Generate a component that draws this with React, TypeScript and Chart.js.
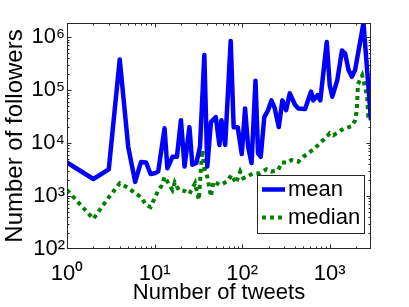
import React, { useEffect, useRef } from 'react';
import { Chart, registerables } from 'chart.js';

Chart.register(...registerables);

const FONT = "'Liberation Sans', Arial, Helvetica, sans-serif";

const seriesLabels = ['mean', 'median'];

const meanTweets = [
  1, 2, 3, 4, 5, 6, 7, 8, 9, 10, 11, 13, 14, 16, 18, 20, 22, 25, 27, 30, 33, 37, 40, 44, 50, 55, 58, 64,
  74, 80, 89, 99, 108, 117, 128, 142, 152, 163, 179, 198, 216, 236, 262, 288, 318, 350, 401, 438, 523,
  612, 648, 726, 780, 925, 1000, 1070, 1220, 1380, 1500, 1640, 1790, 1950, 2430, 2960,
];
const meanFollowers = [
  4300, 2100, 3200, 380000, 8500, 1850, 4400, 4300, 2600, 2700, 2900, 19000, 3350, 5500, 5500, 27000,
  3600, 20000, 3900, 4200, 8500, 460000, 3600, 25000, 31000, 9200, 27000, 9200, 850000, 20000, 20000,
  6200, 45000, 8500, 4200, 150000, 6400, 5500, 31000, 42000, 64000, 45000, 20000, 64000, 42000, 87000,
  53000, 45000, 44000, 94000, 64000, 80000, 64000, 810000, 124000, 75000, 155000, 560000, 490000,
  240000, 178000, 240000, 1850000, 27000,
];

const medianTweets = [
  1, 2, 3, 4, 5, 6, 7, 8, 9, 10, 11, 12, 13, 16, 17, 19, 22, 25, 29, 32, 35, 37, 40, 42, 44, 47, 56, 67,
  76, 85, 95, 103, 113, 134, 158, 190, 216, 258, 284, 335, 366, 438, 498, 569, 677, 775, 880, 1000,
  1100, 1370, 1500, 1800, 1950, 2040, 2100, 2350, 2530, 2670, 2760, 2960,
];
const medianFollowers = [
  1300, 370, 945, 1740, 1430, 1130, 955, 680, 620, 910, 1270, 1550, 2300, 1300, 1800, 1280, 1250, 1100,
  1750, 850, 7400, 3350, 2300, 1500, 980, 1875, 1620, 1875, 2500, 1750, 2900, 2170, 2300, 2700, 2700,
  3200, 2900, 3100, 4300, 4300, 4800, 4450, 5500, 6400, 8000, 10000, 12300, 15300, 14000, 17800, 19000,
  21000, 27000, 42000, 130000, 190000, 115000, 75000, 31000, 27000,
];

const xTickValues = [1, 10, 100, 1000];
const yTickValues = [100, 1000, 10000, 100000, 1000000];
const xRange = [1, 2960];
const yRange = [100, 1850000];

const SUP: Record<string, string> = {
  '0': '\u2070', '1': '\u00B9', '2': '\u00B2', '3': '\u00B3', '4': '\u2074',
  '5': '\u2075', '6': '\u2076', '7': '\u2077', '8': '\u2078', '9': '\u2079', '-': '\u207B',
};
const powLabel = (v: number) =>
  '10' + String(Math.round(Math.log10(v))).split('').map((c) => SUP[c] || c).join('');

const framePlugin = {
  id: 'frameTicks',
  afterDatasetsDraw(chart: any) {
    const { ctx, chartArea } = chart;
    const { left, right, top, bottom } = chartArea;
    const L = Math.round(left) + 0.5;
    const R = Math.round(right) - 0.5;
    const T = Math.round(top) + 0.5;
    const B = Math.round(bottom) - 0.5;
    ctx.save();
    ctx.strokeStyle = '#262626';
    ctx.lineWidth = 1;
    ctx.setLineDash([]);
    const drawTicks = (scale: any, isX: boolean) => {
      const lo = Math.floor(Math.log10(scale.min) + 1e-9);
      const hi = Math.ceil(Math.log10(scale.max) - 1e-9);
      for (let k = lo; k <= hi; k++) {
        for (let m = 1; m <= 9; m++) {
          const v = m * Math.pow(10, k);
          if (v <= scale.min * (1 + 1e-9) || v >= scale.max * (1 - 1e-9)) continue;
          const p = Math.round(scale.getPixelForValue(v)) + 0.5;
          const len = m === 1 ? 4 : 2;
          ctx.beginPath();
          if (isX) {
            ctx.moveTo(p, B); ctx.lineTo(p, B - len);
            ctx.moveTo(p, T); ctx.lineTo(p, T + len);
          } else {
            ctx.moveTo(L, p); ctx.lineTo(L + len, p);
            ctx.moveTo(R, p); ctx.lineTo(R - len, p);
          }
          ctx.stroke();
        }
      }
    };
    drawTicks(chart.scales.x, true);
    drawTicks(chart.scales.y, false);
    ctx.strokeRect(L, T, R - L, B - T);
    ctx.restore();
  },
};

const legendPlugin = {
  id: 'boxLegend',
  afterDatasetsDraw(chart: any) {
    const { ctx, chartArea } = chart;
    const w = 107;
    const h = 58;
    const x0 = Math.round(chartArea.right - 7 - w);
    const y0 = Math.round(chartArea.bottom - 16.5 - h);
    ctx.save();
    ctx.fillStyle = '#ffffff';
    ctx.fillRect(x0, y0, w, h);
    ctx.strokeStyle = '#262626';
    ctx.lineWidth = 1;
    ctx.setLineDash([]);
    ctx.strokeRect(x0 + 0.5, y0 + 0.5, w, h);
    chart.data.datasets.forEach((ds: any, i: number) => {
      const cy = y0 + 14.5 + i * 28;
      ctx.beginPath();
      ctx.setLineDash(ds.borderDash || []);
      ctx.lineCap = 'butt';
      ctx.strokeStyle = ds.borderColor;
      ctx.lineWidth = ds.borderWidth;
      ctx.moveTo(x0 + 5, cy);
      ctx.lineTo(x0 + 28, cy);
      ctx.stroke();
      ctx.setLineDash([]);
      ctx.fillStyle = '#000000';
      ctx.font = `22px ${FONT}`;
      ctx.textBaseline = 'middle';
      ctx.textAlign = 'left';
      ctx.fillText(ds.label, x0 + 31, cy);
    });
    ctx.restore();
  },
};

export default function App() {
  const ref = useRef<HTMLCanvasElement>(null);
  useEffect(() => {
    const canvas = ref.current;
    if (!canvas) return;
    const chart = new Chart(canvas, {
      type: 'line',
      data: {
        datasets: [
          {
            label: seriesLabels[0],
            data: meanTweets.map((x, i) => ({ x, y: meanFollowers[i] })),
            borderColor: '#0000ff',
            backgroundColor: '#0000ff',
            borderWidth: 4.5,
            pointRadius: 0,
            tension: 0,
            borderJoinStyle: 'round',
            fill: false,
            clip: 0,
          },
          {
            label: seriesLabels[1],
            data: medianTweets.map((x, i) => ({ x, y: medianFollowers[i] })),
            borderColor: '#008000',
            backgroundColor: '#008000',
            borderWidth: 4,
            borderDash: [4, 4],
            borderCapStyle: 'butt',
            pointRadius: 0,
            tension: 0,
            fill: false,
            clip: 0,
          },
        ],
      } as any,
      options: {
        responsive: false,
        animation: false,
        devicePixelRatio: 1,
        layout: { padding: { top: 23, right: 38, left: 0, bottom: 0 } },
        plugins: { legend: { display: false }, tooltip: { enabled: false } },
        scales: {
          x: {
            type: 'logarithmic',
            min: xRange[0],
            max: xRange[1],
            grid: { display: false, drawTicks: false },
            border: { display: false },
            afterBuildTicks: (s: any) => {
              s.ticks = xTickValues.map((v) => ({ value: v }));
            },
            afterFit: (s: any) => {
              s.height = 58;
            },
            ticks: {
              autoSkip: false,
              maxRotation: 0,
              minRotation: 0,
              padding: 12,
              color: '#000000',
              font: { family: FONT, size: 22 },
              callback: (v: any) => powLabel(Number(v)),
            },
            title: {
              display: true,
              text: 'Number of tweets',
              color: '#000000',
              font: { family: FONT, size: 22 },
              padding: { top: 0, bottom: 1 },
            },
          },
          y: {
            type: 'logarithmic',
            min: yRange[0],
            max: yRange[1],
            grid: { display: false, drawTicks: false },
            border: { display: false },
            afterBuildTicks: (s: any) => {
              s.ticks = yTickValues.map((v) => ({ value: v }));
            },
            afterFit: (s: any) => {
              s.width = 67;
            },
            ticks: {
              autoSkip: false,
              padding: 2,
              color: '#000000',
              font: { family: FONT, size: 22 },
              callback: (v: any) => powLabel(Number(v)),
            },
            title: {
              display: true,
              text: 'Number of followers',
              color: '#000000',
              font: { family: FONT, size: 24 },
              padding: { top: 1, bottom: 0 },
            },
          },
        },
      } as any,
      plugins: [framePlugin, legendPlugin],
    });
    return () => chart.destroy();
  }, []);
  return (
    <div style={{ position: 'fixed', left: 0, top: 0, width: 409, height: 307, background: '#ffffff' }}>
      <canvas ref={ref} width={409} height={307} style={{ display: 'block', width: 409, height: 307 }} />
    </div>
  );
}
